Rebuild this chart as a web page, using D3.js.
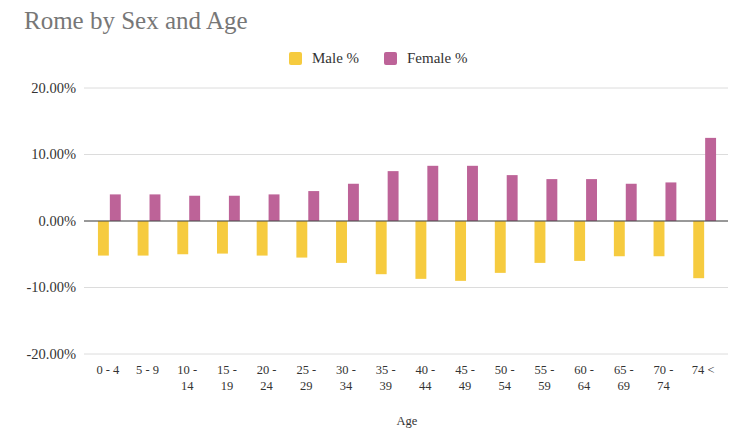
<!DOCTYPE html>
<html><head><meta charset="utf-8">
<script src="https://cdn.jsdelivr.net/npm/d3@7"></script>
<style>body{margin:0;background:#fff}svg{display:block}</style>
</head><body><svg id="c" width="729" height="432" font-family="'Liberation Serif', 'DejaVu Serif', serif"></svg>
<script>
const categories = ["0 - 4","5 - 9","10 - 14","15 - 19","20 - 24","25 - 29","30 - 34","35 - 39","40 - 44","45 - 49","50 - 54","55 - 59","60 - 64","65 - 69","70 - 74","74 <"];
const maleValues = [-5.2,-5.2,-5.0,-4.9,-5.2,-5.5,-6.3,-8.0,-8.7,-9.0,-7.8,-6.3,-6.0,-5.3,-5.3,-8.6];
const femaleValues = [4.0,4.0,3.8,3.8,4.0,4.5,5.6,7.5,8.3,8.3,6.9,6.3,6.3,5.6,5.8,12.5];
const seriesNames = ["Male %","Female %"];
const yTicks = [-20,-10,0,10,20];
const colors = ["#f6cb3f","#bd6398"];
const FF = "'Liberation Serif', 'DejaVu Serif', serif";

const svg = d3.select("#c");
const x0 = d3.scaleBand().domain(categories).range([90,725]).paddingInner(0.4).paddingOuter(0.2);
const x1 = d3.scaleBand().domain(seriesNames).range([0,x0.bandwidth()]);
const y = d3.scaleLinear().domain([-20,20]).range([354,88]);

// title
svg.append("text").attr("x",24).attr("y",29).attr("font-family",FF).attr("font-size",25).attr("fill","#777").text("Rome by Sex and Age");

// gridlines
svg.append("g").selectAll("line").data(yTicks).join("line")
  .attr("x1",84).attr("x2",728).attr("y1",d=>y(d)).attr("y2",d=>y(d))
  .attr("stroke","#dcdcdc").attr("stroke-width",1);
svg.append("g").selectAll("text").data(yTicks).join("text")
  .attr("x",76).attr("y",d=>y(d)+4.5).attr("text-anchor","end").attr("font-family",FF).attr("font-size",14.5).attr("fill","#333")
  .text(d=>d.toFixed(2)+"%");

// bars
const data = categories.map((c,i)=>({c, vals:[maleValues[i],femaleValues[i]]}));
const g = svg.append("g");
data.forEach(d=>{
  seriesNames.forEach((s,j)=>{
    const v = d.vals[j];
    g.append("rect").attr("x",x0(d.c)+x1(s)).attr("width",x1.bandwidth()-1)
      .attr("y",y(Math.max(0,v))).attr("height",Math.abs(y(v)-y(0)))
      .attr("fill",colors[j]);
  });
});
// zero line
svg.append("line").attr("x1",84).attr("x2",728).attr("y1",y(0)).attr("y2",y(0)).attr("stroke","#444").attr("stroke-width",1);

// x labels
const xl = svg.append("g");
categories.forEach(c=>{
  const cx = x0(c)+x0.bandwidth()/2 - 2;
  const t = xl.append("text").attr("text-anchor","middle").attr("font-family",FF).attr("font-size",12.5).attr("fill","#333");
  const parts = c.split(" - ");
  if (parts.length<2 || parts[0].length===1) {
    t.append("tspan").attr("x",cx).attr("y",374).text(c);
  } else {
    t.append("tspan").attr("x",cx).attr("y",374).text(parts[0]+" -");
    t.append("tspan").attr("x",cx).attr("y",390).text(parts[1]);
  }
});
svg.append("text").attr("x",407).attr("y",425).attr("text-anchor","middle").attr("font-family",FF).attr("font-size",12.5).attr("fill","#333").text("Age");

// legend
const leg = svg.append("g");
const legX = [289,384];
seriesNames.forEach((s,j)=>{
  leg.append("rect").attr("x",legX[j]).attr("y",52).attr("width",13).attr("height",13).attr("rx",2).attr("fill",colors[j]);
  leg.append("text").attr("x",legX[j]+23).attr("y",63).attr("font-family",FF).attr("font-size",15).attr("fill","#333").text(s);
});
</script></body></html>
